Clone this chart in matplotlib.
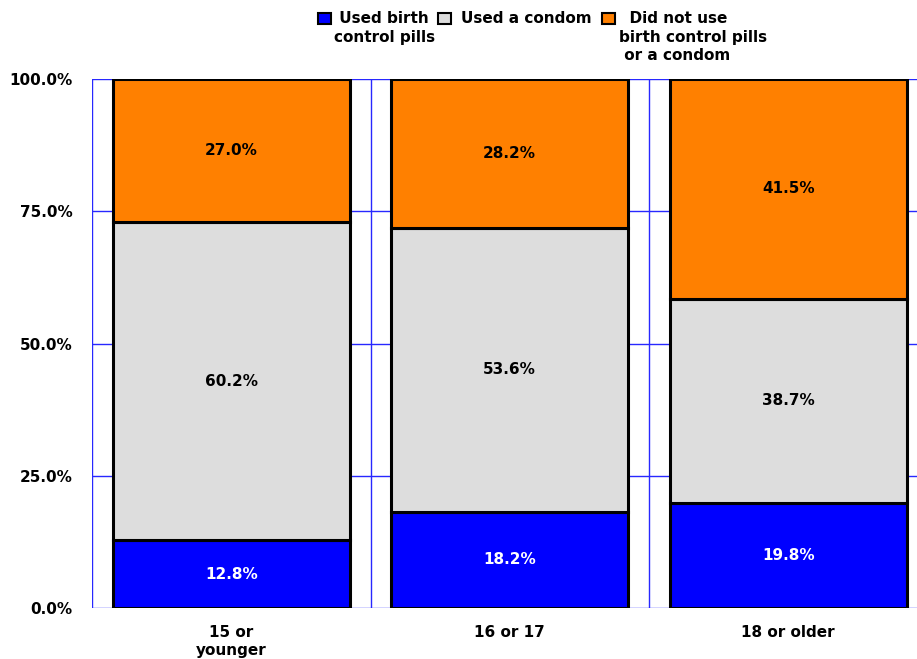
import matplotlib
matplotlib.use("Agg")
import matplotlib.pyplot as plt
from matplotlib.patches import Rectangle
import numpy as np

categories = ["15 or\nyounger", "16 or 17", "18 or older"]
series_names = [" Used birth\ncontrol pills", "Used a condom",
                "  Did not use\nbirth control pills\n or a condom"]
pills = [12.8, 18.2, 19.8]
condom = [60.2, 53.6, 38.7]
neither = [27.0, 28.2, 41.5]
colors = ["#0000FF", "#DDDDDD", "#FF8000"]
label_colors = ["white", "black", "black"]
yticks = [0, 25, 50, 75, 100]

W, H = 917, 659
fig = plt.figure(figsize=(W / 100, H / 100), dpi=100)
ax = fig.add_axes([92 / W, 51 / H, 835.5 / W, 529 / H])
ax.set_xlim(-0.5, 2.5)
ax.set_ylim(0, 100)

grid_color = "#2828FF"
for yv in yticks:
    ax.axhline(yv, color=grid_color, lw=1.0, zorder=0)
for xv in np.arange(-0.5, 3.0, 1.0):
    ax.axvline(xv, color=grid_color, lw=1.0, zorder=0)
for s in ax.spines.values():
    s.set_visible(False)

x = np.arange(len(categories))
bottom = np.zeros(len(categories))
for vals, col, tcol in zip([pills, condom, neither], colors, label_colors):
    vals = np.array(vals)
    ax.bar(x, vals, bottom=bottom, width=0.85, color=col, edgecolor="black",
           linewidth=2.2, zorder=3)
    for xi, b, v in zip(x, bottom, vals):
        ax.text(xi, b + v / 2, f"{v:.1f}%", ha="center", va="center",
                color=tcol, fontsize=11, fontweight="bold", zorder=4)
    bottom += vals

ax.set_yticks(yticks)
ax.set_yticklabels([f"{v:.1f}%" for v in yticks], fontsize=11, fontweight="bold")
ax.set_xticks(x)
ax.set_xticklabels(categories, fontsize=11, fontweight="bold", linespacing=1.3)
ax.tick_params(axis="both", length=0)
ax.tick_params(axis="y", pad=14)
ax.tick_params(axis="x", pad=12)

# legend drawn in figure pixel coordinates
leg_items = [(318, 334), (438, 461), (602, 619)]
for (bx, tx), name, col in zip(leg_items, series_names, colors):
    fig.patches.append(Rectangle((bx / W, 1 - 24 / H), 13 / W, 11 / H,
                                 transform=fig.transFigure, facecolor=col,
                                 edgecolor="black", linewidth=1.5))
    fig.text(tx / W, 1 - 11 / H, name, ha="left", va="top", fontsize=11,
             fontweight="bold", multialignment="left", linespacing=1.3)

fig.savefig("out.png", dpi=100)
